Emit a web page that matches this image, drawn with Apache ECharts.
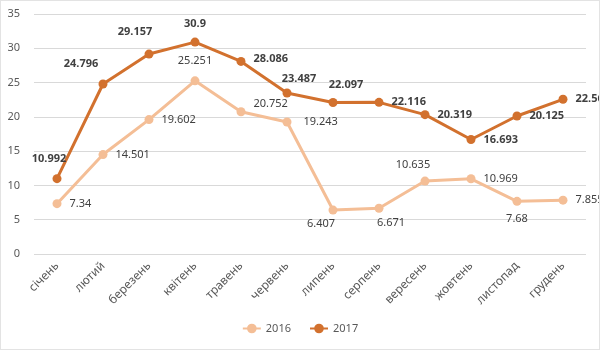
<!DOCTYPE html>
<html>
<head>
<meta charset="utf-8">
<script src="https://cdn.jsdelivr.net/npm/echarts@6/dist/echarts.min.js"></script>
<style>
  html, body { margin: 0; padding: 0; background: #fff; }
  #chart { width: 600px; height: 350px; box-sizing: border-box; border: 1px solid #e3e3e3; }
</style>
</head>
<body>
<div id="chart"></div>
<script>
const months = ['січень', 'лютий', 'березень', 'квітень', 'травень', 'червень', 'липень', 'серпень', 'вересень', 'жовтень', 'листопад', 'грудень'];
const values2016 = [7.34, 14.501, 19.602, 25.251, 20.752, 19.243, 6.407, 6.671, 10.635, 10.969, 7.68, 7.855];
const values2017 = [10.992, 24.796, 29.157, 30.9, 28.086, 23.487, 22.097, 22.116, 20.319, 16.693, 20.125, 22.56];
const yTicks = { min: 0, max: 35, interval: 5 };

// where each data label sits (style only)
const pos2016 = ['right', 'right', 'right', 'top', 'right', 'right', 'bottom', 'bottom', 'top', 'right', 'bottom', 'right'];
const off2016 = [[0, 0], [0, 0], [0, 0], [0, -2], [0, -8], [4, 0], [-12, -4], [12, -3], [-12, 2], [0, 0], [0, 0], [0, 0]];
const pos2017 = ['top', 'top', 'top', 'top', 'right', 'top', 'top', 'right', 'right', 'right', 'right', 'right'];
const off2017 = [[-8, -2], [-22, -2], [-14, -4], [0, 0], [0, -3], [12, 4], [13, 0], [0, 0], [0, 0], [0, 0], [0, 0], [0, 0]];

function withLabels(values, pos, off) {
  return values.map((v, i) => ({
    value: v,
    label: { position: pos[i], offset: off[i] }
  }));
}

const chart = echarts.init(document.getElementById('chart'));
chart.setOption({
  animation: false,
  textStyle: { fontFamily: 'Noto Sans' },
  grid: { left: 33, right: 13, top: 13, bottom: 95, containLabel: false },
  legend: {
    bottom: 10,
    left: 'center',
    itemWidth: 18,
    itemHeight: 12,
    itemGap: 18,
    textStyle: { color: '#595959', fontSize: 11 },
    data: ['2016', '2017']
  },
  xAxis: {
    type: 'category',
    data: months,
    boundaryGap: true,
    axisLine: { show: false },
    axisTick: { show: false },
    axisLabel: { rotate: 45, color: '#595959', fontSize: 12, margin: 10, interval: 0 }
  },
  yAxis: {
    type: 'value',
    min: yTicks.min,
    max: yTicks.max,
    interval: yTicks.interval,
    axisLabel: { color: '#595959', fontSize: 11, margin: 14 },
    splitLine: { lineStyle: { color: '#d9d9d9', width: 1 } }
  },
  series: [
    {
      name: '2016',
      type: 'line',
      data: withLabels(values2016, pos2016, off2016),
      color: '#F4BE96',
      symbol: 'circle',
      symbolSize: 9,
      lineStyle: { width: 3 },
      label: { show: true, color: '#404040', fontSize: 11, distance: 8 }
    },
    {
      name: '2017',
      type: 'line',
      data: withLabels(values2017, pos2017, off2017),
      color: '#D2712E',
      symbol: 'circle',
      symbolSize: 9,
      lineStyle: { width: 3 },
      label: { show: true, color: '#404040', fontSize: 11, fontWeight: 'bold', distance: 8 }
    }
  ]
});
window.addEventListener('resize', function () {
  chart.resize();
});
</script>
</body>
</html>
